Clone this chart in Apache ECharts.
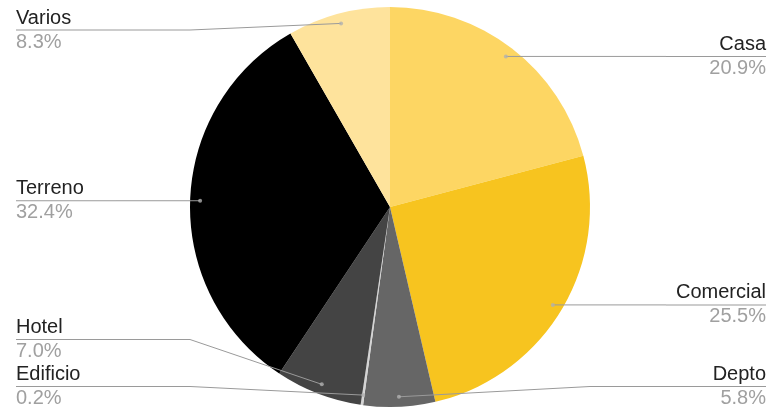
<!DOCTYPE html>
<html><head><meta charset="utf-8">
<script src="https://cdn.jsdelivr.net/npm/echarts/dist/echarts.min.js"></script>
<style>html,body{margin:0;padding:0;background:#fff}#c{width:782px;height:410px}</style>
</head><body><div id="c"></div>
<script>
const categories = ['Casa','Comercial','Depto','Edificio','Hotel','Terreno','Varios'];
const values = [20.9, 25.5, 5.8, 0.2, 7.0, 32.4, 8.3];
const colors = ['#fdd663','#f7c41f','#666666','#d4d4d4','#444444','#000000','#fee39c'];

const W = 782, H = 410;
const CX = 390, CY = 207, R = 200, LR = 190;
const LABEL_H = 47, TOP_MIN = 30;
const FONT = '"Liberation Sans", Arial, sans-serif';

// mid angles (percent of full turn) derived from the values
const total = values.reduce((a, b) => a + b, 0);
let acc = 0;
const midPct = values.map(v => { const m = (acc + v / 2) / total * 100; acc += v; return m; });
const dotData = midPct.map(m => [1, m]);

// label vertical positions: natural position at the dot, then resolved to avoid overlap
const labelY = new Array(values.length);
['L', 'R'].forEach(side => {
  const items = midPct.map((m, i) => {
    const a = m / 100 * 2 * Math.PI;
    return { i, y: CY - LR * Math.cos(a), right: Math.sin(a) >= 0 };
  }).filter(o => (side === 'R') === o.right).sort((a, b) => a.y - b.y);
  for (let k = 0; k < items.length; k++) {
    let y = Math.max(items[k].y, TOP_MIN);
    if (k > 0) y = Math.max(y, items[k - 1].y + LABEL_H);
    items[k].y = y;
  }
  for (let k = items.length - 1; k >= 0; k--) {
    let y = Math.min(items[k].y, H - LABEL_H / 2);
    if (k < items.length - 1) y = Math.min(y, items[k + 1].y - LABEL_H);
    items[k].y = y;
  }
  items.forEach(o => { labelY[o.i] = o.y; });
});

const chart = echarts.init(document.getElementById('c'));
chart.setOption({
  animation: false,
  polar: { center: [CX, CY], radius: LR },
  angleAxis: { type: 'value', min: 0, max: 100, startAngle: 90, clockwise: true, show: false },
  radiusAxis: { type: 'value', min: 0, max: 1, show: false },
  series: [
    {
      type: 'pie', center: [CX, CY], radius: R, startAngle: 90, clockwise: true, silent: true,
      itemStyle: { borderWidth: 0 },
      label: { show: false }, labelLine: { show: false },
      data: categories.map((n, i) => ({ name: n, value: values[i], itemStyle: { color: colors[i] } }))
    },
    {
      type: 'pie', center: [CX, CY], radius: LR, startAngle: 90, clockwise: true, silent: true, z: 3,
      itemStyle: { color: 'rgba(0,0,0,0)', borderWidth: 0 },
      label: {
        show: true, position: 'outer', alignTo: 'edge', edgeDistance: 16, distanceToLabelLine: 0,
        formatter: p => `{n|${p.name}}\n{l| }\n{p|${p.value.toFixed(1)}%}`,
        rich: {
          n: { fontSize: 20, lineHeight: 23, color: '#222222', fontFamily: FONT },
          l: { width: 100, height: 1, lineHeight: 1, fontSize: 1, backgroundColor: '#9a9a9a' },
          p: { fontSize: 20, lineHeight: 23, color: '#a0a0a0', fontFamily: FONT }
        }
      },
      labelLine: { show: true, length: 0.01, length2: 0, lineStyle: { color: '#9a9a9a', width: 1 } },
      labelLayout: function (params) {
        const pts = params.labelLinePoints;
        const y = labelY[params.dataIndex];
        if (!pts || pts.length < 3) return { y: y };
        const p0 = pts[0], p2 = pts[2];
        const left = p2[0] < CX;
        let bx = left ? CX - R : CX + R;
        if (left ? bx > p0[0] : bx < p0[0]) bx = p0[0];
        return { y: y, labelLinePoints: [[p0[0], p0[1]], [bx, y], [p2[0], y]] };
      },
      data: categories.map((n, i) => ({ name: n, value: values[i] }))
    },
    {
      type: 'scatter', coordinateSystem: 'polar', silent: true, z: 4,
      symbolSize: 4, itemStyle: { color: '#b0b0b0' },
      data: dotData
    }
  ]
});
</script></body></html>
